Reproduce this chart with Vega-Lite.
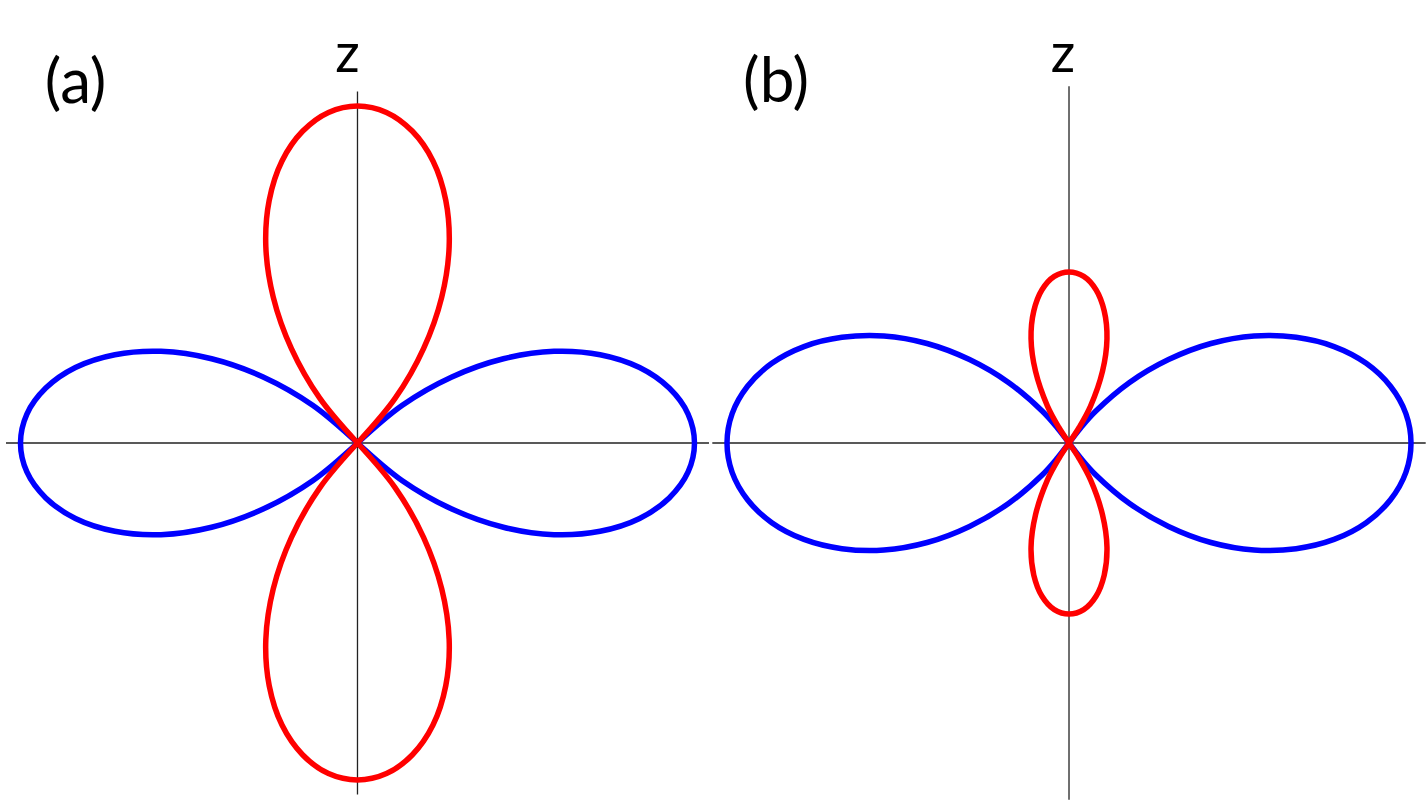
{
  "$schema": "https://vega.github.io/schema/vega-lite/v6.json",
  "padding": 0,
  "spacing": 0,
  "background": "white",
  "config": {"view": {"stroke": null}},
  "datasets": {
    "one": [{}],
    "a": [
      {"l":"R","c":"blue","i":0,"x":0,"y":0},
      {"l":"R","c":"blue","i":1,"x":0.133,"y":0.112},
      {"l":"R","c":"blue","i":2,"x":0.280,"y":0.196},
      {"l":"R","c":"blue","i":3,"x":0.433,"y":0.250},
      {"l":"R","c":"blue","i":4,"x":0.583,"y":0.272},
      {"l":"R","c":"blue","i":5,"x":0.720,"y":0.262},
      {"l":"R","c":"blue","i":6,"x":0.837,"y":0.224},
      {"l":"R","c":"blue","i":7,"x":0.925,"y":0.163},
      {"l":"R","c":"blue","i":8,"x":0.981,"y":0.086},
      {"l":"R","c":"blue","i":9,"x":1,"y":0},
      {"l":"R","c":"blue","i":10,"x":0.981,"y":-0.086},
      {"l":"R","c":"blue","i":11,"x":0.925,"y":-0.163},
      {"l":"R","c":"blue","i":12,"x":0.837,"y":-0.224},
      {"l":"R","c":"blue","i":13,"x":0.720,"y":-0.262},
      {"l":"R","c":"blue","i":14,"x":0.583,"y":-0.272},
      {"l":"R","c":"blue","i":15,"x":0.433,"y":-0.250},
      {"l":"R","c":"blue","i":16,"x":0.280,"y":-0.196},
      {"l":"R","c":"blue","i":17,"x":0.133,"y":-0.112},
      {"l":"R","c":"blue","i":18,"x":0,"y":0},
      {"l":"L","c":"blue","i":0,"x":0,"y":0},
      {"l":"L","c":"blue","i":1,"x":-0.133,"y":0.112},
      {"l":"L","c":"blue","i":2,"x":-0.280,"y":0.196},
      {"l":"L","c":"blue","i":3,"x":-0.433,"y":0.250},
      {"l":"L","c":"blue","i":4,"x":-0.583,"y":0.272},
      {"l":"L","c":"blue","i":5,"x":-0.720,"y":0.262},
      {"l":"L","c":"blue","i":6,"x":-0.837,"y":0.224},
      {"l":"L","c":"blue","i":7,"x":-0.925,"y":0.163},
      {"l":"L","c":"blue","i":8,"x":-0.981,"y":0.086},
      {"l":"L","c":"blue","i":9,"x":-1,"y":0},
      {"l":"L","c":"blue","i":10,"x":-0.981,"y":-0.086},
      {"l":"L","c":"blue","i":11,"x":-0.925,"y":-0.163},
      {"l":"L","c":"blue","i":12,"x":-0.837,"y":-0.224},
      {"l":"L","c":"blue","i":13,"x":-0.720,"y":-0.262},
      {"l":"L","c":"blue","i":14,"x":-0.583,"y":-0.272},
      {"l":"L","c":"blue","i":15,"x":-0.433,"y":-0.250},
      {"l":"L","c":"blue","i":16,"x":-0.280,"y":-0.196},
      {"l":"L","c":"blue","i":17,"x":-0.133,"y":-0.112},
      {"l":"L","c":"blue","i":18,"x":0,"y":0},
      {"l":"T","c":"red","i":0,"x":0,"y":0},
      {"l":"T","c":"red","i":1,"x":0.112,"y":0.133},
      {"l":"T","c":"red","i":2,"x":0.196,"y":0.280},
      {"l":"T","c":"red","i":3,"x":0.250,"y":0.433},
      {"l":"T","c":"red","i":4,"x":0.272,"y":0.583},
      {"l":"T","c":"red","i":5,"x":0.262,"y":0.720},
      {"l":"T","c":"red","i":6,"x":0.224,"y":0.837},
      {"l":"T","c":"red","i":7,"x":0.163,"y":0.925},
      {"l":"T","c":"red","i":8,"x":0.086,"y":0.981},
      {"l":"T","c":"red","i":9,"x":0,"y":1},
      {"l":"T","c":"red","i":10,"x":-0.086,"y":0.981},
      {"l":"T","c":"red","i":11,"x":-0.163,"y":0.925},
      {"l":"T","c":"red","i":12,"x":-0.224,"y":0.837},
      {"l":"T","c":"red","i":13,"x":-0.262,"y":0.720},
      {"l":"T","c":"red","i":14,"x":-0.272,"y":0.583},
      {"l":"T","c":"red","i":15,"x":-0.250,"y":0.433},
      {"l":"T","c":"red","i":16,"x":-0.196,"y":0.280},
      {"l":"T","c":"red","i":17,"x":-0.112,"y":0.133},
      {"l":"T","c":"red","i":18,"x":0,"y":0},
      {"l":"B","c":"red","i":0,"x":0,"y":0},
      {"l":"B","c":"red","i":1,"x":0.112,"y":-0.133},
      {"l":"B","c":"red","i":2,"x":0.196,"y":-0.280},
      {"l":"B","c":"red","i":3,"x":0.250,"y":-0.433},
      {"l":"B","c":"red","i":4,"x":0.272,"y":-0.583},
      {"l":"B","c":"red","i":5,"x":0.262,"y":-0.720},
      {"l":"B","c":"red","i":6,"x":0.224,"y":-0.837},
      {"l":"B","c":"red","i":7,"x":0.163,"y":-0.925},
      {"l":"B","c":"red","i":8,"x":0.086,"y":-0.981},
      {"l":"B","c":"red","i":9,"x":0,"y":-1},
      {"l":"B","c":"red","i":10,"x":-0.086,"y":-0.981},
      {"l":"B","c":"red","i":11,"x":-0.163,"y":-0.925},
      {"l":"B","c":"red","i":12,"x":-0.224,"y":-0.837},
      {"l":"B","c":"red","i":13,"x":-0.262,"y":-0.720},
      {"l":"B","c":"red","i":14,"x":-0.272,"y":-0.583},
      {"l":"B","c":"red","i":15,"x":-0.250,"y":-0.433},
      {"l":"B","c":"red","i":16,"x":-0.196,"y":-0.280},
      {"l":"B","c":"red","i":17,"x":-0.112,"y":-0.133},
      {"l":"B","c":"red","i":18,"x":0,"y":0}
    ],
    "b": [
      {"l":"R","c":"blue","i":0,"x":0,"y":0},
      {"l":"R","c":"blue","i":1,"x":0.034,"y":0.044},
      {"l":"R","c":"blue","i":2,"x":0.077,"y":0.092},
      {"l":"R","c":"blue","i":3,"x":0.177,"y":0.177},
      {"l":"R","c":"blue","i":4,"x":0.291,"y":0.244},
      {"l":"R","c":"blue","i":5,"x":0.415,"y":0.291},
      {"l":"R","c":"blue","i":6,"x":0.541,"y":0.313},
      {"l":"R","c":"blue","i":7,"x":0.664,"y":0.309},
      {"l":"R","c":"blue","i":8,"x":0.775,"y":0.282},
      {"l":"R","c":"blue","i":9,"x":0.869,"y":0.233},
      {"l":"R","c":"blue","i":10,"x":0.940,"y":0.166},
      {"l":"R","c":"blue","i":11,"x":0.985,"y":0.086},
      {"l":"R","c":"blue","i":12,"x":1,"y":0},
      {"l":"R","c":"blue","i":13,"x":0.985,"y":-0.086},
      {"l":"R","c":"blue","i":14,"x":0.940,"y":-0.166},
      {"l":"R","c":"blue","i":15,"x":0.869,"y":-0.233},
      {"l":"R","c":"blue","i":16,"x":0.775,"y":-0.282},
      {"l":"R","c":"blue","i":17,"x":0.664,"y":-0.309},
      {"l":"R","c":"blue","i":18,"x":0.541,"y":-0.313},
      {"l":"R","c":"blue","i":19,"x":0.415,"y":-0.291},
      {"l":"R","c":"blue","i":20,"x":0.291,"y":-0.244},
      {"l":"R","c":"blue","i":21,"x":0.177,"y":-0.177},
      {"l":"R","c":"blue","i":22,"x":0.077,"y":-0.092},
      {"l":"R","c":"blue","i":23,"x":0.034,"y":-0.044},
      {"l":"R","c":"blue","i":24,"x":0,"y":0},
      {"l":"L","c":"blue","i":0,"x":0,"y":0},
      {"l":"L","c":"blue","i":1,"x":-0.034,"y":0.044},
      {"l":"L","c":"blue","i":2,"x":-0.077,"y":0.092},
      {"l":"L","c":"blue","i":3,"x":-0.177,"y":0.177},
      {"l":"L","c":"blue","i":4,"x":-0.291,"y":0.244},
      {"l":"L","c":"blue","i":5,"x":-0.415,"y":0.291},
      {"l":"L","c":"blue","i":6,"x":-0.541,"y":0.313},
      {"l":"L","c":"blue","i":7,"x":-0.664,"y":0.309},
      {"l":"L","c":"blue","i":8,"x":-0.775,"y":0.282},
      {"l":"L","c":"blue","i":9,"x":-0.869,"y":0.233},
      {"l":"L","c":"blue","i":10,"x":-0.940,"y":0.166},
      {"l":"L","c":"blue","i":11,"x":-0.985,"y":0.086},
      {"l":"L","c":"blue","i":12,"x":-1,"y":0},
      {"l":"L","c":"blue","i":13,"x":-0.985,"y":-0.086},
      {"l":"L","c":"blue","i":14,"x":-0.940,"y":-0.166},
      {"l":"L","c":"blue","i":15,"x":-0.869,"y":-0.233},
      {"l":"L","c":"blue","i":16,"x":-0.775,"y":-0.282},
      {"l":"L","c":"blue","i":17,"x":-0.664,"y":-0.309},
      {"l":"L","c":"blue","i":18,"x":-0.541,"y":-0.313},
      {"l":"L","c":"blue","i":19,"x":-0.415,"y":-0.291},
      {"l":"L","c":"blue","i":20,"x":-0.291,"y":-0.244},
      {"l":"L","c":"blue","i":21,"x":-0.177,"y":-0.177},
      {"l":"L","c":"blue","i":22,"x":-0.077,"y":-0.092},
      {"l":"L","c":"blue","i":23,"x":-0.034,"y":-0.044},
      {"l":"L","c":"blue","i":24,"x":0,"y":0},
      {"l":"T","c":"red","i":0,"x":0,"y":0},
      {"l":"T","c":"red","i":1,"x":0.030,"y":0.046},
      {"l":"T","c":"red","i":2,"x":0.063,"y":0.108},
      {"l":"T","c":"red","i":3,"x":0.098,"y":0.210},
      {"l":"T","c":"red","i":4,"x":0.111,"y":0.305},
      {"l":"T","c":"red","i":5,"x":0.103,"y":0.386},
      {"l":"T","c":"red","i":6,"x":0.079,"y":0.448},
      {"l":"T","c":"red","i":7,"x":0.043,"y":0.487},
      {"l":"T","c":"red","i":8,"x":0,"y":0.5},
      {"l":"T","c":"red","i":9,"x":-0.043,"y":0.487},
      {"l":"T","c":"red","i":10,"x":-0.079,"y":0.448},
      {"l":"T","c":"red","i":11,"x":-0.103,"y":0.386},
      {"l":"T","c":"red","i":12,"x":-0.111,"y":0.305},
      {"l":"T","c":"red","i":13,"x":-0.098,"y":0.210},
      {"l":"T","c":"red","i":14,"x":-0.063,"y":0.108},
      {"l":"T","c":"red","i":15,"x":-0.030,"y":0.046},
      {"l":"T","c":"red","i":16,"x":0,"y":0},
      {"l":"B","c":"red","i":0,"x":0,"y":0},
      {"l":"B","c":"red","i":1,"x":0.030,"y":-0.046},
      {"l":"B","c":"red","i":2,"x":0.063,"y":-0.108},
      {"l":"B","c":"red","i":3,"x":0.098,"y":-0.210},
      {"l":"B","c":"red","i":4,"x":0.111,"y":-0.305},
      {"l":"B","c":"red","i":5,"x":0.103,"y":-0.386},
      {"l":"B","c":"red","i":6,"x":0.079,"y":-0.448},
      {"l":"B","c":"red","i":7,"x":0.043,"y":-0.487},
      {"l":"B","c":"red","i":8,"x":0,"y":-0.5},
      {"l":"B","c":"red","i":9,"x":-0.043,"y":-0.487},
      {"l":"B","c":"red","i":10,"x":-0.079,"y":-0.448},
      {"l":"B","c":"red","i":11,"x":-0.103,"y":-0.386},
      {"l":"B","c":"red","i":12,"x":-0.111,"y":-0.305},
      {"l":"B","c":"red","i":13,"x":-0.098,"y":-0.210},
      {"l":"B","c":"red","i":14,"x":-0.063,"y":-0.108},
      {"l":"B","c":"red","i":15,"x":-0.030,"y":-0.046},
      {"l":"B","c":"red","i":16,"x":0,"y":0}
    ]
  },
  "resolve": {"scale": {"x": "independent", "y": "independent", "color": "independent"}},
  "hconcat": [
    {
      "width": 711,
      "height": 803,
      "data": {"name": "one"},
      "layer": [
        {
          "mark": {"type": "rule", "color": "#222222", "strokeWidth": 1.3},
          "encoding": {"x": {"datum": -1.043, "type": "quantitative", "scale": {"domain": [-1.0608, 1.049], "nice": false, "zero": false}, "axis": null}, "x2": {"datum": 1.043}, "y": {"datum": 0, "type": "quantitative", "scale": {"domain": [-1.0682, 1.3145], "nice": false, "zero": false}, "axis": null}}
        },
        {
          "mark": {"type": "rule", "color": "#222222", "strokeWidth": 1.3},
          "encoding": {"x": {"datum": 0, "type": "quantitative"}, "y": {"datum": -1.043, "type": "quantitative"}, "y2": {"datum": 1.043}}
        },
        {
          "data": {"name": "a"},
          "mark": {"type": "line", "strokeWidth": 5.5, "interpolate": "catmull-rom", "strokeJoin": "round", "strokeCap": "round"},
          "encoding": {
            "x": {"field": "x", "type": "quantitative"},
            "y": {"field": "y", "type": "quantitative"},
            "detail": {"field": "l"},
            "order": {"field": "i", "type": "quantitative"},
            "color": {"field": "c", "type": "nominal", "scale": {"domain": ["blue", "red"], "range": ["#0000FF", "#FF0000"]}, "legend": null}
          }
        },
        {
          "mark": {"type": "text", "text": "z", "font": "Lato", "fontSize": 54, "align": "center", "baseline": "alphabetic", "color": "black"},
          "encoding": {"x": {"datum": -0.03, "type": "quantitative"}, "y": {"datum": 1.101, "type": "quantitative"}}
        },
        {
          "mark": {"type": "text", "text": "(a)", "font": "Lato", "fontSize": 62, "align": "left", "baseline": "alphabetic", "color": "black"},
          "encoding": {"x": {"datum": -0.928, "type": "quantitative"}, "y": {"datum": 1.009, "type": "quantitative"}}
        }
      ]
    },
    {
      "width": 716,
      "height": 803,
      "data": {"name": "one"},
      "layer": [
        {
          "mark": {"type": "rule", "color": "#222222", "strokeWidth": 1.3},
          "encoding": {"x": {"datum": -1.043, "type": "quantitative", "scale": {"domain": [-1.0439, 1.0497], "nice": false, "zero": false}, "axis": null}, "x2": {"datum": 1.043}, "y": {"datum": 0, "type": "quantitative", "scale": {"domain": [-1.0526, 1.2953], "nice": false, "zero": false}, "axis": null}}
        },
        {
          "mark": {"type": "rule", "color": "#222222", "strokeWidth": 1.3},
          "encoding": {"x": {"datum": 0, "type": "quantitative"}, "y": {"datum": -1.043, "type": "quantitative"}, "y2": {"datum": 1.043}}
        },
        {
          "data": {"name": "b"},
          "mark": {"type": "line", "strokeWidth": 5.5, "interpolate": "catmull-rom", "strokeJoin": "round", "strokeCap": "round"},
          "encoding": {
            "x": {"field": "x", "type": "quantitative"},
            "y": {"field": "y", "type": "quantitative"},
            "detail": {"field": "l"},
            "order": {"field": "i", "type": "quantitative"},
            "color": {"field": "c", "type": "nominal", "scale": {"domain": ["blue", "red"], "range": ["#0000FF", "#FF0000"]}, "legend": null}
          }
        },
        {
          "mark": {"type": "text", "text": "z", "font": "Lato", "fontSize": 54, "align": "center", "baseline": "alphabetic", "color": "black"},
          "encoding": {"x": {"datum": -0.018, "type": "quantitative"}, "y": {"datum": 1.085, "type": "quantitative"}}
        },
        {
          "mark": {"type": "text", "text": "(b)", "font": "Lato", "fontSize": 62, "align": "left", "baseline": "alphabetic", "color": "black"},
          "encoding": {"x": {"datum": -0.953, "type": "quantitative"}, "y": {"datum": 0.997, "type": "quantitative"}}
        }
      ]
    }
  ]
}
